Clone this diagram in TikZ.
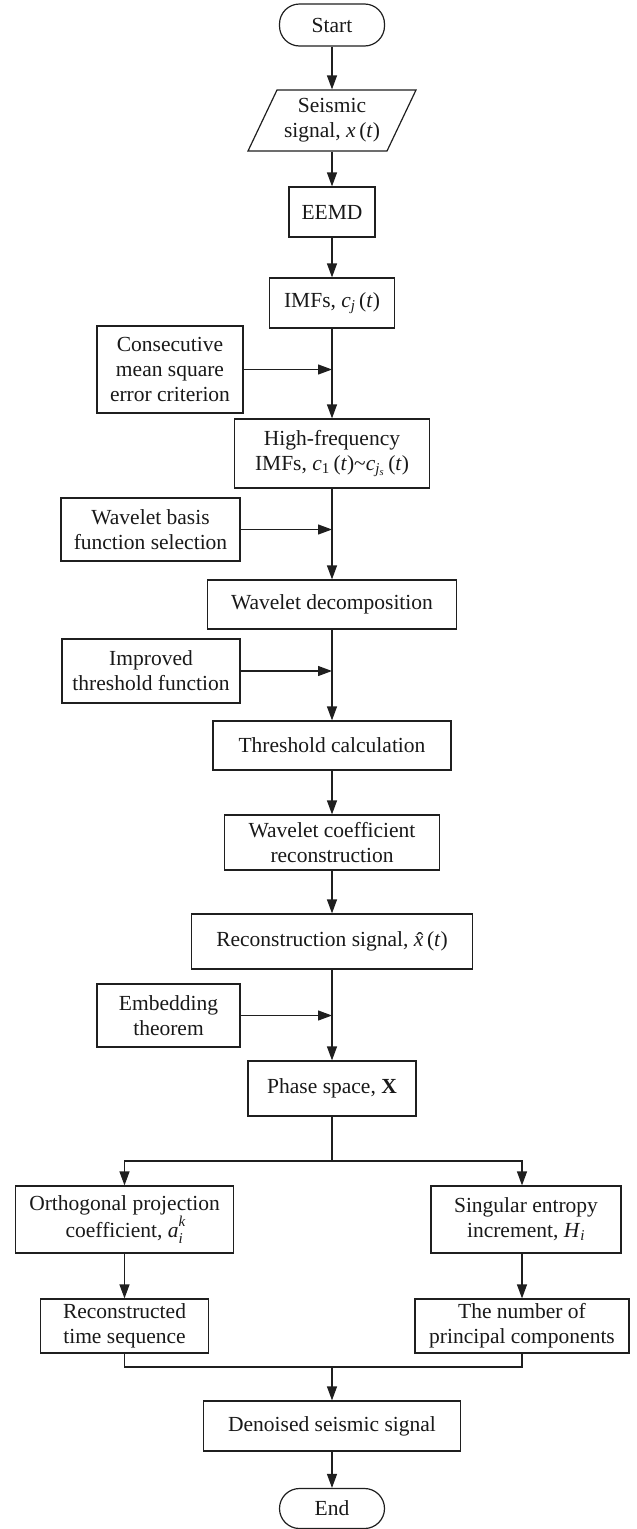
\documentclass[tikz,border=0pt]{standalone}
\usepackage{fontspec}
\setmainfont{Liberation Serif}
\usetikzlibrary{arrows.meta,calc}
\newcommand{\myxhat}{\setbox0\hbox{\textit{x}}\rlap{\copy0}\hbox to \wd0{\hss\hspace{0.12em}\raisebox{-0.12ex}{ˆ}\hss}}
\tikzset{
  box/.style={draw=black!88, rectangle, line width=1.2pt, inner sep=0pt, align=center,
    text=black!90, font=\fontsize{21.5pt}{25pt}\selectfont},
  term/.style={box, rounded corners=20pt},
  arr/.style={draw=black!88, line width=1.2pt, -{Triangle[length=14pt,width=10pt]}},
  ln/.style={draw=black!88, line width=1.2pt},
}
\begin{document}
\begin{tikzpicture}[x=1pt,y=-1pt]
\useasboundingbox (0,0) rectangle (637,1529);
% main column
\node[term, minimum width=105pt, minimum height=42pt] (start) at (332,25) {Start};
\node[box, draw=none, minimum width=110pt, minimum height=61pt] (in) at (332,120.5) {Seismic\\signal, \textit{x}\,(\textit{t})};
\draw[ln] (277,90) -- (416,90) -- (387,151) -- (248,151) -- cycle;
\node[box, minimum width=86pt, minimum height=50pt] (eemd) at (332,212) {EEMD};
\node[box, minimum width=125pt, minimum height=50pt] (imfs) at (332,303) {IMFs, \textit{c}\textsubscript{\textit{j}}\,(\textit{t})};
\node[box, minimum width=146pt, minimum height=87pt] (cons) at (170,369.5) {Consecutive\\mean square\\error criterion};
\node[box, minimum width=195pt, minimum height=69pt] (hf) at (332,453.5) {High-frequency\\IMFs, \textit{c}\textsubscript{1}\,(\textit{t})\textasciitilde\textit{c}\textsubscript{\textit{j}\textsubscript{\textit{s}}}\,(\textit{t})};
\node[box, minimum width=179pt, minimum height=63pt] (wb) at (150.5,529.5) {Wavelet basis\\function selection};
\node[box, minimum width=249pt, minimum height=49pt] (wd) at (332,604.5) {Wavelet decomposition};
\node[box, minimum width=178pt, minimum height=64pt] (imp) at (151,671) {Improved\\threshold function};
\node[box, minimum width=238pt, minimum height=49pt] (tc) at (332,745.5) {Threshold calculation};
\node[box, minimum width=215pt, minimum height=55pt] (wcr) at (332,842.5) {Wavelet coefficient\\reconstruction};
\node[box, minimum width=281pt, minimum height=55pt] (rs) at (332,941.5) {Reconstruction signal, \myxhat\,(\textit{t})};
\node[box, minimum width=143pt, minimum height=63pt] (emb) at (168.5,1015.5) {Embedding\\theorem};
\node[box, minimum width=168pt, minimum height=55pt] (ps) at (332,1088.5) {Phase space, \textbf{X}};
\node[box, minimum width=218pt, minimum height=67pt] (orth) at (124.5,1219.5) {Orthogonal projection\\coefficient, \textit{a}\rlap{\raisebox{0.35ex}{\textsuperscript{\textit{k}}}}\raisebox{-0.25ex}{\textsubscript{\textit{i}}}};
\node[box, minimum width=190pt, minimum height=67pt] (sing) at (526,1219.5) {Singular entropy\\increment, \textit{H}\textsubscript{\textit{i}}};
\node[box, minimum width=168pt, minimum height=54pt] (rec) at (124.5,1326) {Reconstructed\\time sequence};
\node[box, minimum width=214pt, minimum height=54pt] (num) at (522,1326) {The number of\\principal components};
\node[box, minimum width=257pt, minimum height=50pt] (den) at (332,1426) {Denoised seismic signal};
\node[term, minimum width=105pt, minimum height=40pt] (end) at (332,1508.5) {End};
\coordinate (br) at (332,1161);
\coordinate (mg) at (332,1367);
% connectors
\draw[arr] (start) -- (in);
\draw[arr] (in) -- (eemd);
\draw[arr] (eemd) -- (imfs);
\draw[arr] (imfs) -- (hf);
\draw[arr] (cons.east) -- (cons.east -| imfs.south);
\draw[arr] (hf) -- (wd);
\draw[arr] (wb.east) -- (wb.east -| hf.south);
\draw[arr] (wd) -- (tc);
\draw[arr] (imp.east) -- (imp.east -| wd.south);
\draw[arr] (tc) -- (wcr);
\draw[arr] (wcr) -- (rs);
\draw[arr] (rs) -- (ps);
\draw[arr] (emb.east) -- (emb.east -| rs.south);
\draw[ln] (ps.south) -- (br);
\draw[arr] (br) -| (orth.north);
\draw[arr] (br) -| (sing.north -| num.north);
\draw[arr] (orth) -- (rec);
\draw[arr] (sing.south -| num.north) -- (num.north);
\draw[ln] (rec.south) |- (mg);
\draw[ln] (num.south) |- (mg);
\draw[arr] (mg) -- (den);
\draw[arr] (den) -- (end);
\end{tikzpicture}
\end{document}
